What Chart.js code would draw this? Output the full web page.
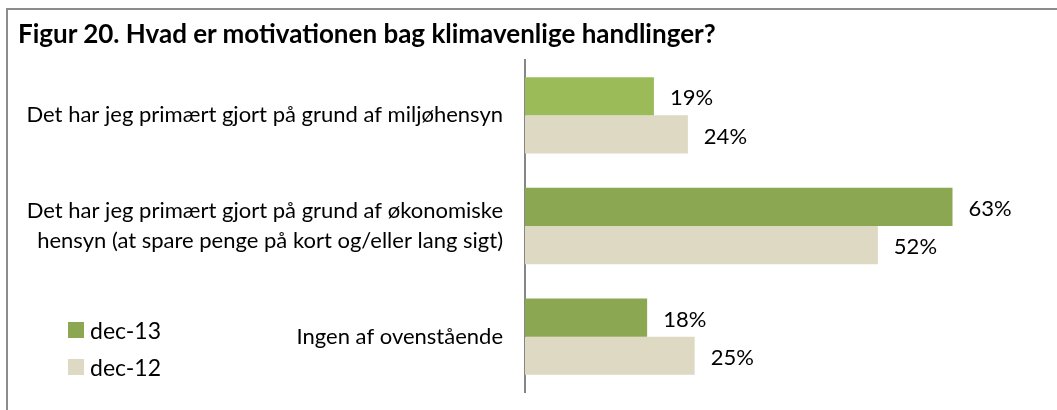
<!DOCTYPE html>
<html>
<head>
  <meta charset="utf-8" />
  <title>Figur 20</title>
  <script src="https://cdn.jsdelivr.net/npm/chart.js"></script>
  <style>
    body { margin: 0; background: #fff; font-family: Lato, sans-serif; }
    #wrap { position: relative; width: 1057px; height: 410px; overflow: hidden; }
    #frame { position: absolute; left: 6px; top: 8px; right: -10px; bottom: -10px;
             border-top: 2px solid #8c8c8c; border-left: 2px solid #8c8c8c; pointer-events: none; }
    #title { position: absolute; left: 18px; top: 17px; font-weight: bold; font-size: 26px; color: #000; }
    #legend { position: absolute; left: 68px; top: 311px; font-size: 23px; color: #000; }
    #legend div { display: flex; align-items: center; height: 37px; }
    #legend span.box { display: inline-block; width: 16px; height: 16px; margin-right: 6px; }
    canvas { position: absolute; left: 0; top: 0; }
  </style>
</head>
<body>
  <div id="wrap">
    <canvas id="chart" width="1057" height="410"></canvas>
    <div id="frame"></div>
    <div id="title">Figur 20. Hvad er motivationen bag klimavenlige handlinger?</div>
    <div id="legend"></div>
  </div>

  <script>
  const categories = [
    'Det har jeg primært gjort på grund af miljøhensyn',
    ['Det har jeg primært gjort på grund af økonomiske', 'hensyn (at spare penge på kort og/eller lang sigt)'],
    'Ingen af ovenstående'
  ];
  const seriesNames = ['dec-13', 'dec-12'];
  const dec13 = [19, 63, 18];
  const dec12 = [24, 52, 25];

  const green = '#8CA751';
  const greenLight = '#9BBB59';
  const beige = '#DDD9C3';

  // value labels to the right of each bar
  const valueLabels = {
    id: 'valueLabels',
    afterDatasetsDraw(chart) {
      const ctx = chart.ctx;
      ctx.save();
      ctx.font = '22px Lato, sans-serif';
      ctx.fillStyle = '#000';
      ctx.textBaseline = 'middle';
      ctx.textAlign = 'left';
      chart.data.datasets.forEach((ds, i) => {
        chart.getDatasetMeta(i).data.forEach((bar, j) => {
          ctx.fillText(ds.data[j] + '%', bar.x + 16, bar.y + 2);
        });
      });
      ctx.restore();
    }
  };

  new Chart(document.getElementById('chart').getContext('2d'), {
    type: 'bar',
    data: {
      labels: categories,
      datasets: [
        { label: seriesNames[0], data: dec13, backgroundColor: [greenLight, green, green] },
        { label: seriesNames[1], data: dec12, backgroundColor: beige }
      ]
    },
    options: {
      indexAxis: 'y',
      responsive: false,
      animation: false,
      layout: { padding: { top: 60, bottom: 18, left: 0, right: 57 } },
      datasets: { bar: { categoryPercentage: 0.69, barPercentage: 1.0 } },
      plugins: { legend: { display: false }, tooltip: { enabled: false } },
      scales: {
        x: { display: false, min: 0, max: 70 },
        y: {
          grid: { display: false },
          border: { display: true, color: '#868686', width: 2 },
          ticks: { color: '#000', font: { family: 'Lato', size: 22, lineHeight: 1.4 }, padding: 14 },
          afterFit(scale) {
            scale.width = 525;
            // don't let the label heights eat into the plot height
            scale.paddingTop = 0;
            scale.paddingBottom = 0;
          }
        }
      }
    },
    plugins: [valueLabels]
  });

  const legend = document.getElementById('legend');
  seriesNames.forEach((name, i) => {
    const row = document.createElement('div');
    row.innerHTML = `<span class="box" style="background:${i === 0 ? green : beige}"></span>${name}`;
    legend.appendChild(row);
  });
  </script>
</body>
</html>
